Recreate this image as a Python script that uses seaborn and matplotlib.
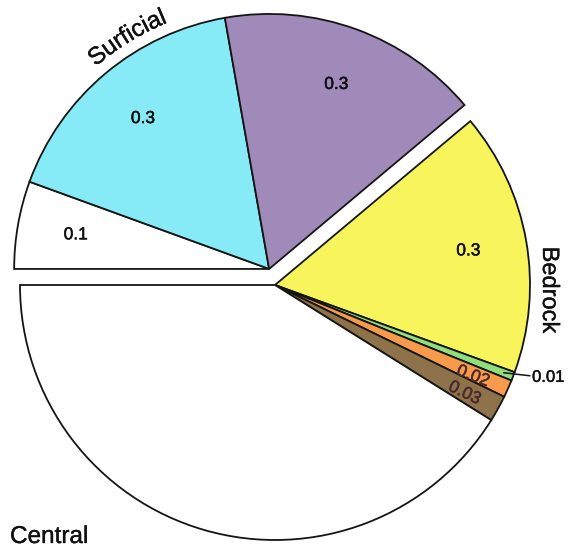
import numpy as np
import matplotlib
matplotlib.use("Agg")
import matplotlib.pyplot as plt
import matplotlib.patheffects as pe
import seaborn as sns
from matplotlib.font_manager import FontProperties
from matplotlib.textpath import text_to_path

# Groundwater source fractions, grouped by origin
groups = ["Surficial", "Surficial", "Surficial",
          "Bedrock", "Bedrock", "Bedrock", "Bedrock",
          "Central"]
values = [0.1, 0.3, 0.3, 0.3, 0.01, 0.02, 0.03, 0.74]
value_labels = ["0.1", "0.3", "0.3", "0.3", "0.01", "0.02", "0.03", ""]
colors = ["#ffffff", "#86ebf6", "#a08ab9", "#f7f45c",
          "#8fe07c", "#f79a4c", "#8e7249", "#ffffff"]
group_names = ["Surficial", "Bedrock", "Central"]

sns.set_theme(style="white")
plt.rcParams["font.family"] = ["Liberation Sans", "DejaVu Sans"]

W, H, DPI = 580, 548, 100
PX = 255.0                      # pixels per unit radius
CX, CY = 275.0, 285.0           # pie centre in pixels from top-left

fig = plt.figure(figsize=(W / DPI, H / DPI), dpi=DPI)
fig.patch.set_facecolor("white")
ax = fig.add_axes([0, 0, 1, 1])

wedges, _ = ax.pie(values, colors=colors, startangle=180, counterclock=False,
                   radius=1.0,
                   wedgeprops=dict(edgecolor="#151515", linewidth=1.3))

# pull the surficial group out along its bisector
surf_idx = [i for i, g in enumerate(groups) if g == "Surficial"]
lo = min(wedges[i].theta1 for i in surf_idx)
hi = max(wedges[i].theta2 for i in surf_idx)
surf_mid = np.deg2rad((lo + hi) / 2)
offset = 0.067
for i in surf_idx:
    wedges[i].set_center((offset * np.cos(surf_mid), offset * np.sin(surf_mid)))

ax.set_xlim(-CX / PX, (W - CX) / PX)
ax.set_ylim(-(H - CY) / PX, CY / PX)
ax.set_aspect("equal", adjustable="box")
ax.axis("off")


def heavy(color, lw=0.35):
    # slightly thickened glyph strokes
    return [pe.withStroke(linewidth=lw, foreground=color)]


# value labels inside wedges
for i, w in enumerate(wedges):
    lab = value_labels[i]
    if not lab:
        continue
    cx, cy = w.center
    mid = (w.theta1 + w.theta2) / 2
    t = np.deg2rad(mid)
    if lab == "0.01":
        # thin slice: leader line to an outside label
        x0, y0 = cx + 0.96 * np.cos(t), cy + 0.96 * np.sin(t)
        x1, y1 = 1.0, y0 - 0.012
        ax.plot([x0, x1], [y0, y1], color="#151515", lw=1.1)
        ax.text(x1 + 0.008, y1 - 0.006, lab, fontsize=12, ha="left",
                va="center", color="#111111", path_effects=heavy("#111111"))
    elif lab in ("0.02", "0.03"):
        r = 0.85
        ax.text(cx + r * np.cos(t), cy + r * np.sin(t) - 0.012, lab,
                fontsize=12.5, ha="center", va="center", rotation=mid + 3,
                rotation_mode="anchor", color="#4a2a30",
                path_effects=heavy("#4a2a30"))
    else:
        r = 0.77
        ax.text(cx + r * np.cos(t), cy + r * np.sin(t), lab, fontsize=12.5,
                ha="center", va="center", color="#111111",
                path_effects=heavy("#111111"))


def arc_text(s, center, r_base, mid_deg, size):
    """Write s along a circular arc, reading clockwise over the top."""
    fp = FontProperties(family="Liberation Sans", size=size)
    scale = DPI / 72.0 / PX

    def width(txt):
        if not txt:
            return 0.0
        return text_to_path.get_text_width_height_descent(txt, fp, ismath=False)[0] * scale

    total = width(s)
    r_sp = r_base + 0.02
    for k, ch in enumerate(s):
        c = (width(s[:k]) + width(s[:k + 1])) / 2
        ang = mid_deg + np.rad2deg((total / 2 - c) / r_sp)
        a = np.deg2rad(ang)
        ax.text(center[0] + r_base * np.cos(a), center[1] + r_base * np.sin(a),
                ch, fontproperties=fp, ha="center", va="baseline",
                rotation=ang - 90, rotation_mode="anchor", color="#111111",
                path_effects=heavy("#111111", 0.25))


surf_center = wedges[surf_idx[0]].center
arc_text(group_names[0], surf_center, 1.045, 121.5, 17.5)

ax.text((549 - CX) / PX, (CY - 290) / PX, group_names[1], fontsize=17,
        rotation=-90, ha="center", va="center", color="#111111",
        path_effects=heavy("#111111", 0.25))
ax.text((10 - CX) / PX, (CY - 543) / PX, group_names[2], fontsize=17.5,
        ha="left", va="baseline", color="#111111",
        path_effects=heavy("#111111", 0.25))

fig.savefig("out.png", dpi=DPI, facecolor="white")
